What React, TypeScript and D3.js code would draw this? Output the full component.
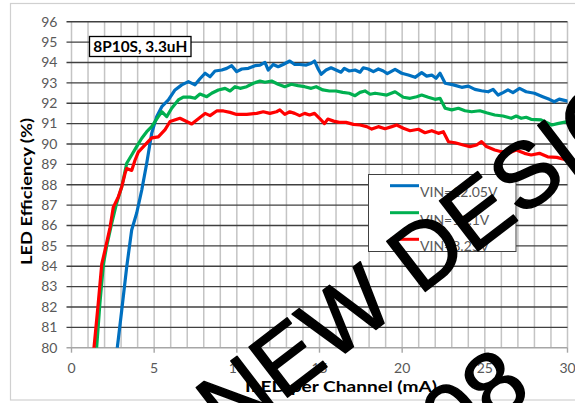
import React from "react";
import * as d3 from "d3";

const xTicks = [0, 5, 10, 15, 20, 25, 30];
const yTicks = [80, 81, 82, 83, 84, 85, 86, 87, 88, 89, 90, 91, 92, 93, 94, 95, 96];
const seriesNames = ["VIN=12.05V", "VIN=11.1V", "VIN=8.25V"];
const seriesColors = ["#0070C0", "#00B050", "#FF0000"];
const watermarkLine1 = "NEW DESIGNS";
const watermarkLine2 = "08";

const blueI = [2.77, 3.04, 3.34, 3.64, 3.94, 4.25, 4.55, 4.85, 5.15, 5.46, 5.86, 6.26, 6.67, 7.07, 7.47, 7.77, 8.08, 8.38, 8.68, 9.09, 9.39, 9.69, 9.99, 10.3, 10.7, 11.1, 11.4, 11.7, 11.9, 12.2, 12.5, 12.8, 13.2, 13.5, 13.8, 14.2, 14.5, 14.7, 14.9, 15.1, 15.4, 15.7, 16.0, 16.3, 16.5, 16.8, 17.15, 17.45, 17.65, 17.95, 18.26, 18.56, 18.86, 19.1, 19.57, 19.97, 20.37, 20.78, 21.18, 21.48, 21.79, 22.05, 22.29, 22.6, 23.1, 23.6, 24.0, 24.4, 24.8, 25.2, 25.5, 25.8, 26.1, 26.4, 26.7, 27.1, 27.5, 28.0, 28.5, 28.9, 29.2, 29.5, 30.0];
const blueE = [80.0, 81.85, 83.97, 85.78, 86.6, 87.74, 89.05, 90.52, 91.34, 91.83, 92.16, 92.65, 92.9, 93.06, 92.9, 93.2, 93.47, 93.3, 93.58, 93.63, 93.71, 93.84, 93.55, 93.68, 93.71, 93.84, 93.87, 94.0, 93.63, 93.9, 93.79, 93.9, 94.07, 93.9, 93.9, 93.87, 93.96, 94.07, 93.71, 93.42, 93.63, 93.74, 93.63, 93.52, 93.71, 93.58, 93.63, 93.52, 93.74, 93.68, 93.55, 93.68, 93.58, 93.45, 93.66, 93.47, 93.38, 93.27, 93.5, 93.33, 93.38, 93.22, 93.47, 92.98, 92.9, 92.78, 92.84, 92.68, 92.61, 92.56, 92.68, 92.4, 92.52, 92.65, 92.52, 92.73, 92.56, 92.49, 92.32, 92.19, 92.07, 92.2, 92.1];

const greenI = [1.52, 1.72, 1.93, 2.13, 2.43, 2.73, 3.04, 3.34, 3.64, 3.94, 4.25, 4.55, 4.85, 5.25, 5.46, 5.76, 6.06, 6.46, 6.76, 7.17, 7.47, 7.77, 8.18, 8.48, 8.88, 9.29, 9.59, 9.89, 10.2, 10.6, 11.0, 11.4, 11.7, 12.1, 12.5, 12.9, 13.3, 13.7, 14.1, 14.5, 14.8, 15.2, 15.6, 16.0, 16.4, 16.8, 17.15, 17.45, 17.75, 18.06, 18.36, 18.66, 19.07, 19.57, 20.07, 20.48, 20.88, 21.18, 21.58, 21.99, 22.29, 22.6, 23.0, 23.4, 23.8, 24.2, 24.7, 25.1, 25.6, 26.1, 26.6, 26.9, 27.2, 27.5, 27.8, 28.4, 29.05, 29.4, 30.0];
const greenE = [80.0, 82.2, 84.1, 85.0, 86.1, 87.1, 87.9, 89.05, 89.46, 89.87, 90.28, 90.6, 90.85, 91.34, 91.58, 91.34, 91.75, 92.16, 92.3, 92.3, 92.24, 92.45, 92.32, 92.49, 92.65, 92.73, 92.6, 92.81, 92.73, 92.81, 92.98, 93.09, 93.03, 93.09, 92.93, 92.81, 92.93, 92.86, 92.81, 92.73, 92.81, 92.65, 92.6, 92.6, 92.53, 92.49, 92.37, 92.53, 92.6, 92.44, 92.49, 92.45, 92.4, 92.56, 92.29, 92.24, 92.32, 92.4, 92.29, 92.19, 92.24, 91.75, 91.67, 91.75, 91.63, 91.58, 91.63, 91.53, 91.42, 91.37, 91.26, 91.37, 91.26, 91.31, 91.21, 91.18, 90.93, 91.0, 91.1];

const redI = [1.36, 1.62, 1.83, 2.03, 2.33, 2.53, 2.83, 3.04, 3.24, 3.34, 3.64, 3.84, 4.04, 4.45, 4.85, 5.25, 5.66, 5.96, 6.56, 7.27, 7.77, 8.08, 8.38, 8.78, 9.19, 9.59, 9.99, 10.6, 11.2, 11.6, 12.0, 12.4, 12.6, 12.9, 13.2, 13.5, 13.8, 14.1, 14.4, 14.7, 15.0, 15.3, 15.5, 15.85, 16.2, 16.6, 17.05, 17.45, 17.86, 18.16, 18.56, 18.96, 19.37, 19.67, 20.07, 20.48, 20.98, 21.38, 21.79, 22.19, 22.49, 22.8, 23.2, 23.7, 24.1, 24.5, 24.8, 25.1, 25.6, 26.0, 26.5, 26.9, 27.4, 27.8, 28.3, 28.8, 29.35, 29.95];
const redE = [80.0, 82.2, 84.1, 84.8, 85.9, 86.9, 87.4, 87.9, 88.56, 88.8, 88.7, 89.2, 89.6, 89.95, 90.3, 90.35, 90.7, 91.1, 91.26, 90.98, 91.3, 91.5, 91.39, 91.62, 91.62, 91.55, 91.45, 91.45, 91.5, 91.58, 91.5, 91.58, 91.67, 91.45, 91.58, 91.5, 91.39, 91.5, 91.42, 91.5, 91.26, 91.0, 91.22, 91.12, 91.06, 91.06, 90.96, 90.93, 90.85, 90.73, 90.85, 90.75, 90.85, 90.93, 90.77, 90.65, 90.72, 90.55, 90.65, 90.52, 90.6, 90.11, 90.06, 89.95, 89.87, 89.95, 90.11, 89.87, 89.7, 89.62, 89.57, 89.7, 89.54, 89.46, 89.54, 89.37, 89.34, 89.21];

const FONT = "Lato, 'Open Sans', sans-serif";

export default function App() {
  const x = d3.scaleLinear().domain([0, 30]).range([71.5, 567.5]);
  const y = d3.scaleLinear().domain([80, 96]).range([347.7, 21.7]);
  const line = d3
    .line<[number, number]>()
    .x((d) => x(d[0]))
    .y((d) => y(d[1]));
  const series = [
    { I: blueI, E: blueE },
    { I: greenI, E: greenE },
    { I: redI, E: redE },
  ];
  const minorX = d3.range(0, 31, 1);
  const legendY = [185.7, 212.7, 239.3];
  const legendBase = [197, 224.5, 250.5];

  return (
    <svg
      width={575}
      height={403}
      style={{ position: "absolute", left: 0, top: 0, background: "#fff" }}
      fontFamily={FONT}
    >
      <rect x={0} y={0} width={575} height={403} fill="#fff" />
      <rect x={10.5} y={3.5} width={620} height={396.5} fill="#fff" stroke="#d0d0d0" strokeWidth={1.2} />
      <defs>
        <clipPath id="plotClip">
          <rect x={x(0)} y={y(96) - 2} width={x(30) - x(0)} height={y(80) - y(96) + 2} />
        </clipPath>
      </defs>
      {minorX.map((v) => (
        <line key={"vx" + v} x1={x(v)} x2={x(v)} y1={y(96)} y2={y(80)} stroke="#c4c4c4" strokeWidth={1.5} />
      ))}
      {yTicks.map((v) => (
        <line
          key={"hy" + v}
          x1={x(0) - 5}
          x2={x(30)}
          y1={y(v)}
          y2={y(v)}
          stroke={v === 80 ? "#a6a6a6" : "#404040"}
          strokeWidth={1.4}
        />
      ))}
      {xTicks.map((v) => (
        <line key={"tx" + v} x1={x(v)} x2={x(v)} y1={y(80)} y2={y(80) + 5} stroke="#a6a6a6" strokeWidth={1.4} />
      ))}
      {yTicks.map((v) => (
        <text key={"ly" + v} x={57.5} y={y(v) + 4.8} textAnchor="end" fontSize={14} fill="#595959">
          {v}
        </text>
      ))}
      {xTicks.map((v) => (
        <text key={"lx" + v} x={x(v)} y={372.5} textAnchor="middle" fontSize={14} fill="#595959">
          {v}
        </text>
      ))}
      <g clipPath="url(#plotClip)">
        {series.map((s, i) => (
          <path
            key={"s" + i}
            d={line(s.I.map((v, k) => [v, s.E[k]] as [number, number])) || ""}
            fill="none"
            stroke={seriesColors[i]}
            strokeWidth={3.2}
            strokeLinejoin="round"
            strokeLinecap="round"
          />
        ))}
      </g>
      <rect x={89.5} y={36.5} width={101.5} height={20} fill="#fff" stroke="#000" strokeWidth={1.3} />
      <text x={140.3} y={51.5} textAnchor="middle" fontSize={15} fontWeight="bold" fill="#000" textLength={94} lengthAdjust="spacingAndGlyphs">
        8P10S, 3.3uH
      </text>
      <rect x={368.5} y={174.5} width={147.5} height={77} fill="#fff" stroke="#404040" strokeWidth={1} />
      {seriesNames.map((n, i) => (
        <g key={"lg" + i}>
          <line x1={390} x2={419} y1={legendY[i]} y2={legendY[i]} stroke={seriesColors[i]} strokeWidth={3} />
          <text x={420} y={legendBase[i]} fontSize={14} fill="#595959">
            {n}
          </text>
        </g>
      ))}
      <text
        transform="translate(32,191.5) rotate(-90)"
        textAnchor="middle"
        fontSize={16}
        fontWeight="bold"
        fill="#000"
        textLength={147}
        lengthAdjust="spacingAndGlyphs"
      >
        LED Efficiency (%)
      </text>
      <text x={341} y={392} textAnchor="middle" fontSize={16} fontWeight="bold" fill="#000" textLength={192} lengthAdjust="spacingAndGlyphs">
        ILED per Channel (mA)
      </text>
      <g fontFamily="'Liberation Sans', Arial, sans-serif" fill="#000" stroke="#000" strokeWidth={1.5} strokeLinejoin="round">
        <text transform="translate(228.8,442.2) rotate(-37.5)" fontSize={92}>
          {watermarkLine1}
        </text>
        <text transform="translate(534,394) rotate(-37.5)" fontSize={92} textAnchor="end">
          {watermarkLine2}
        </text>
      </g>
    </svg>
  );
}
